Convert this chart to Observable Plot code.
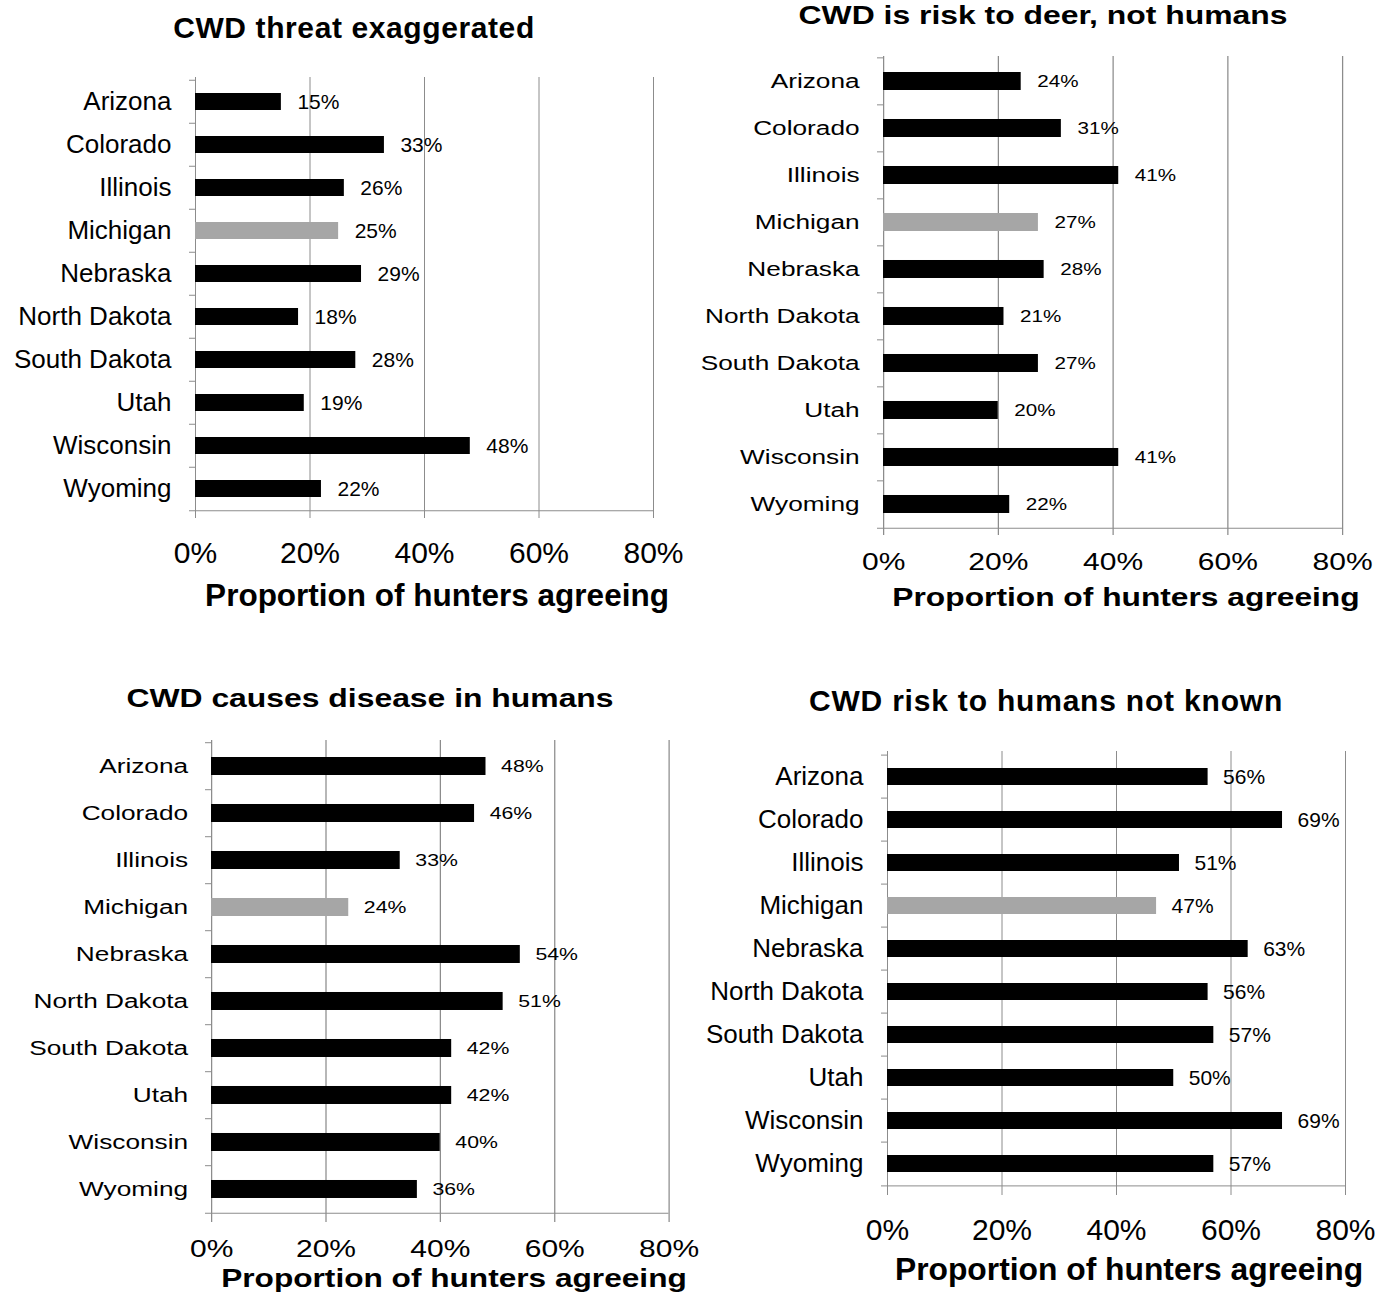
<!DOCTYPE html>
<html><head><meta charset="utf-8">
<script src="https://cdn.jsdelivr.net/npm/d3@7"></script>
<script src="https://cdn.jsdelivr.net/npm/@observablehq/plot@0.6"></script>
<style>
body{margin:0;background:#fff;font-family:"Liberation Sans",Arial,sans-serif;}
#page{position:relative;width:1388px;height:1295px;overflow:hidden;background:#fff;}
.panel{position:absolute;top:0;transform-origin:0 0;height:1295px;}
.lbl{position:absolute;transform:translate(-50%,-50%);white-space:nowrap;font-weight:bold;color:#000;line-height:1;}
.panel svg{position:absolute;left:0;overflow:visible;}
</style></head><body><div id="page"></div>
<script>
// ---- data ----
const states = ["Arizona","Colorado","Illinois","Michigan","Nebraska","North Dakota","South Dakota","Utah","Wisconsin","Wyoming"];
const threatExaggerated     = [15, 33, 26, 25, 29, 18, 28, 19, 48, 22];
const riskToDeerNotHumans   = [24, 31, 41, 27, 28, 21, 27, 20, 41, 22];
const causesDiseaseInHumans = [48, 46, 33, 24, 54, 51, 42, 42, 40, 36];
const riskToHumansNotKnown  = [56, 69, 51, 47, 63, 56, 57, 50, 69, 57];
const panelTitles = ["CWD threat exaggerated","CWD is risk to deer, not humans","CWD causes disease in humans","CWD risk to humans not known"];
const xLabel = "Proportion of hunters agreeing";
const xTicks = [0, 20, 40, 60, 80];
const xTickLabels = ["0%","20%","40%","60%","80%"];
const highlightState = "Michigan";

// ---- layout (page pixels) ----
const layouts = [
  {L:0,   s:1,    x0:195, x80:653,   top:77,  bottom:512,  yLabGap:24,   tickCy:552,  title:{cx:354, cy:28,  size:30,   ls:0.6}, xlab:{cx:437, cy:596,  size:31.5}, yFont:26, tickFont:30, valFont:21,   valDx:16},
  {L:690, s:1.25, x0:883, x80:1342,  top:56,  bottom:529,  yLabGap:24,   tickCy:561,  title:{cx:1043,cy:16,  size:25.5, ls:0},   xlab:{cx:1126,cy:598,  size:25.4}, yFont:21, tickFont:24, valFont:16.5, valDx:16},
  {L:0,   s:1.25, x0:211, x80:668.5, top:740, bottom:1216, yLabGap:23.5, tickCy:1248, title:{cx:370, cy:699, size:25.5, ls:0},   xlab:{cx:454, cy:1279, size:25.3}, yFont:21, tickFont:24, valFont:17,   valDx:15},
  {L:690, s:1,    x0:887, x80:1345,  top:751, bottom:1189, yLabGap:24,   tickCy:1229, title:{cx:1046,cy:701, size:30,   ls:0.8}, xlab:{cx:1129,cy:1270, size:31.8}, yFont:26, tickFont:30, valFont:21,   valDx:15}
];
const seriesList = [threatExaggerated, riskToDeerNotHumans, causesDiseaseInHumans, riskToHumansNotKnown];

const page = document.getElementById("page");
const gray = "#8c8c8c";
const pad = 0.61;

function makePanel(values, cfg, title) {
  const data = states.map((state, i) => ({state, value: values[i]}));
  const s = cfg.s;
  const ml = (cfg.x0 - cfg.L) / s;
  const mr = 50 / s;
  const w = ml + (cfg.x80 - cfg.x0) / s + mr;
  const mt = 10, mb = 60;
  const h = mt + (cfg.bottom - cfg.top) + mb;
  const step = (cfg.bottom - cfg.top) / states.length;
  const tickPad = cfg.tickCy - cfg.bottom - 6 - 0.36 * cfg.tickFont;

  const chart = Plot.plot({
    width: w, height: h,
    marginLeft: ml, marginRight: mr, marginTop: mt, marginBottom: mb,
    style: {fontFamily: "'Liberation Sans', Arial, sans-serif", color: "#000", background: "transparent", overflow: "visible"},
    x: {domain: [xTicks[0], xTicks[xTicks.length - 1]]},
    y: {domain: states, paddingInner: pad, paddingOuter: pad / 2, align: 0.5},
    color: {type: "identity"},
    marks: [
      Plot.ruleX(xTicks.slice(1), {stroke: gray, strokeWidth: 1}),
      Plot.ruleX([xTicks[0]], {stroke: gray, strokeWidth: 1}),
      Plot.ruleY(states, {y: d => d, x1: 0, x2: 0, insetLeft: -6 / s, dy: -step / 2, stroke: gray}),
      Plot.ruleY(states.slice(-1), {y: d => d, x1: 0, x2: xTicks[xTicks.length - 1], insetLeft: -6 / s, dy: step / 2, stroke: gray}),
      Plot.barX(data, {x: "value", y: "state", fill: d => d.state === highlightState ? "#a6a6a6" : "#000000"}),
      Plot.text(data, {x: "value", y: "state", text: d => d.value + "%", textAnchor: "start", dx: cfg.valDx / s, fontSize: cfg.valFont, fill: "#000"}),
      Plot.axisY({tickSize: 0, tickPadding: cfg.yLabGap / s, fontSize: cfg.yFont, label: null, fill: "#000"}),
      Plot.axisX({ticks: xTicks, tickFormat: d => xTickLabels[xTicks.indexOf(d)], tickSize: 6, tickPadding: tickPad, fontSize: cfg.tickFont, stroke: gray, fill: "#000", label: null})
    ]
  });

  const div = document.createElement("div");
  div.className = "panel";
  div.style.left = cfg.L + "px";
  div.style.width = (w) + "px";
  div.style.transform = `scaleX(${s})`;
  chart.style.top = (cfg.top - mt) + "px";
  div.appendChild(chart);

  const t = document.createElement("div");
  t.className = "lbl";
  t.textContent = title;
  t.style.left = ((cfg.title.cx - cfg.L) / s) + "px";
  t.style.top = cfg.title.cy + "px";
  t.style.fontSize = cfg.title.size + "px";
  t.style.letterSpacing = cfg.title.ls + "px";
  div.appendChild(t);

  const xl = document.createElement("div");
  xl.className = "lbl";
  xl.textContent = xLabel;
  xl.style.left = ((cfg.xlab.cx - cfg.L) / s) + "px";
  xl.style.top = cfg.xlab.cy + "px";
  xl.style.fontSize = cfg.xlab.size + "px";
  div.appendChild(xl);

  page.appendChild(div);
}

seriesList.forEach((vals, i) => makePanel(vals, layouts[i], panelTitles[i]));
</script>
</body></html>
